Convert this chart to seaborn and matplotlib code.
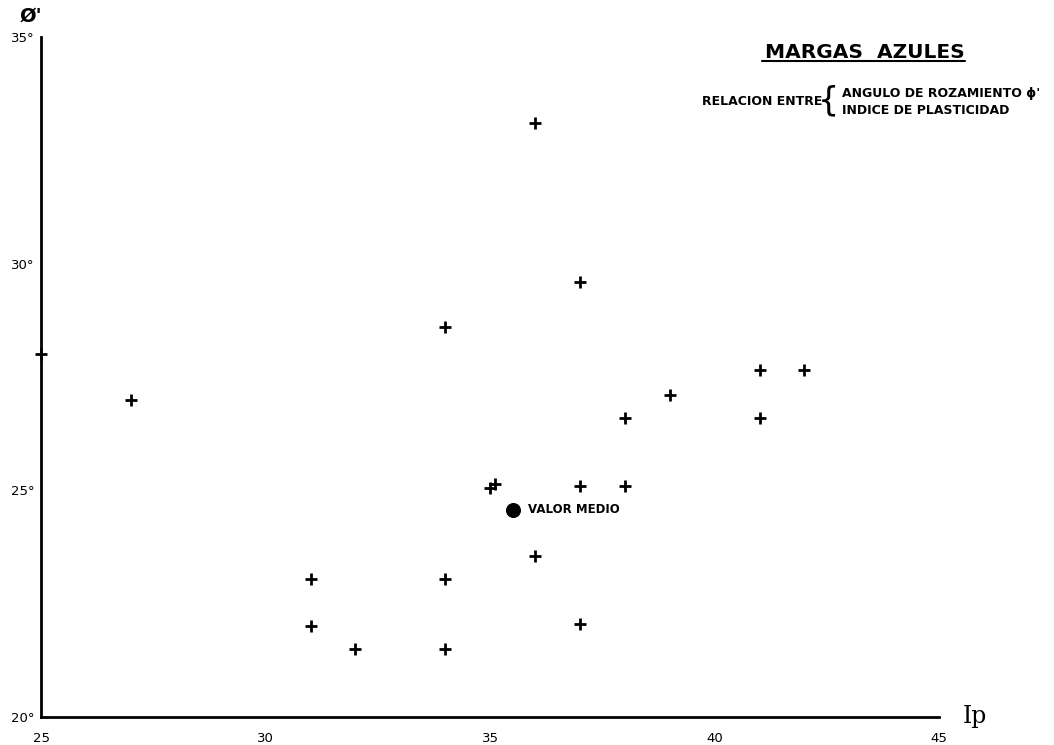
import matplotlib
matplotlib.use("Agg")
import matplotlib.pyplot as plt
import seaborn as sns
import pandas as pd

ip = [25, 27, 36, 37, 34, 41, 42, 39, 38, 41, 35, 35.1, 37, 38, 36, 31, 34, 31, 37, 32, 34]
phi = [28.0, 27.0, 33.1, 29.6, 28.6, 27.65, 27.65, 27.1, 26.6, 26.6, 25.05, 25.15, 25.1, 25.1, 23.55, 23.05, 23.05, 22.0, 22.05, 21.5, 21.5]
mean_ip = [35.5]
mean_phi = [24.57]
x_ticks = [25, 30, 35, 40, 45]
y_ticks = [20, 25, 30, 35]
y_labels = ["20°", "25°", "30°", "35°"]

sns.set_style("white")
plt.rcParams['font.family'] = ['DejaVu Sans']
plt.rcParams['text.color'] = 'black'
plt.rcParams['xtick.color'] = 'black'
plt.rcParams['ytick.color'] = 'black'

fig = plt.figure(figsize=(10.54, 7.45), dpi=100)
ax = fig.add_axes([0.039, 0.0376, 0.852, 0.9127])

df = pd.DataFrame({"Ip": ip, "phi": phi})
sns.scatterplot(data=df, x="Ip", y="phi", marker="+", s=70, color="black",
                linewidth=2.0, ax=ax, clip_on=False, zorder=5)
dm = pd.DataFrame({"Ip": mean_ip, "phi": mean_phi})
sns.scatterplot(data=dm, x="Ip", y="phi", marker="o", s=100, color="black",
                edgecolor="black", ax=ax)
ax.text(mean_ip[0] + 0.35, mean_phi[0], "VALOR MEDIO", fontsize=8.5,
        fontweight="bold", va="center", ha="left")

ax.set_xlim(25, 45)
ax.set_ylim(20, 35)
ax.set_xticks(x_ticks)
ax.set_xticklabels([str(t) for t in x_ticks], fontsize=9.5)
ax.set_yticks(y_ticks)
ax.set_yticklabels(y_labels, fontsize=9.5)
ax.tick_params(axis="x", direction="inout", length=12, width=1.2, pad=5)
ax.tick_params(axis="y", direction="inout", length=6, width=1.0, pad=2)
ax.set_xlabel("")
ax.set_ylabel("")

for s in ["top", "right"]:
    ax.spines[s].set_visible(False)
for s in ["left", "bottom"]:
    ax.spines[s].set_linewidth(2.0)
    ax.spines[s].set_color("black")

fig.text(0.019, 0.978, "Ø'", fontsize=14, fontweight="bold", ha="left", va="center")
fig.text(0.913, 0.038, "Ip", fontsize=17, family="DejaVu Serif", ha="left", va="center")

fig.text(0.821, 0.930, "MARGAS  AZULES", fontsize=14.5, fontweight="bold",
         ha="center", va="center")
fig.add_artist(plt.Line2D([0.723, 0.916], [0.918, 0.918], color="black", lw=1.5))
fig.text(0.666, 0.864, "RELACION ENTRE", fontsize=9, fontweight="bold",
         ha="left", va="center")
fig.text(0.786, 0.864, "{", fontsize=24, ha="center", va="center")
fig.text(0.799, 0.875, "ANGULO DE ROZAMIENTO ϕ'", fontsize=9, fontweight="bold",
         ha="left", va="center")
fig.text(0.799, 0.852, "INDICE DE PLASTICIDAD", fontsize=9, fontweight="bold",
         ha="left", va="center")

fig.savefig("out.png", dpi=100)
